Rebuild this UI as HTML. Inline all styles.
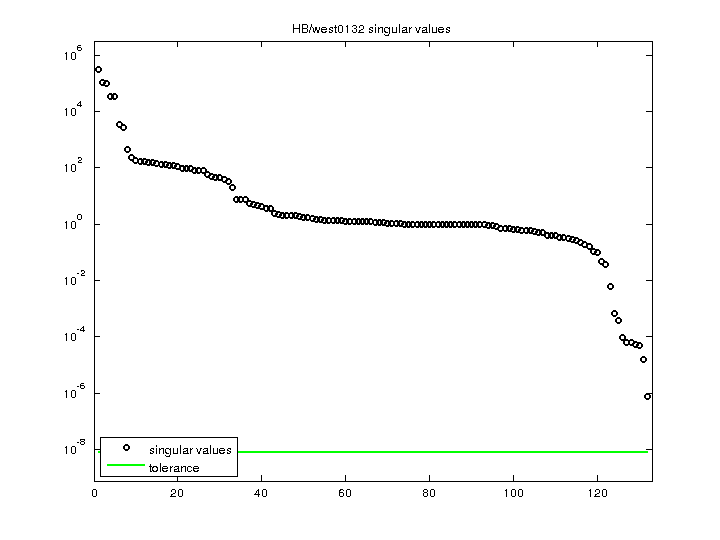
<!DOCTYPE html>
<html><head><meta charset="utf-8"><title>HB/west0132 singular values</title><style>
html,body{margin:0;padding:0;background:#fff;}
svg{display:block;}
text{font-family:"Liberation Sans",sans-serif;fill:#000;}
</style></head><body>
<svg width="720" height="540" viewBox="0 0 720 540">
<defs><filter id="th" x="0" y="0" width="1" height="1" color-interpolation-filters="sRGB"><feComponentTransfer><feFuncA type="discrete" tableValues="0 1"/></feComponentTransfer></filter></defs>
<rect x="0" y="0" width="720" height="540" fill="#fff"/>
<g shape-rendering="crispEdges" fill="#000">
<rect x="94" y="41" width="559" height="1"/>
<rect x="94" y="481" width="559" height="1"/>
<rect x="94" y="41" width="1" height="441"/>
<rect x="652" y="41" width="1" height="441"/>
<rect x="95" y="55" width="5" height="1"/><rect x="646" y="55" width="6" height="1"/><rect x="95" y="111" width="5" height="1"/><rect x="646" y="111" width="6" height="1"/><rect x="95" y="167" width="5" height="1"/><rect x="646" y="167" width="6" height="1"/><rect x="95" y="224" width="5" height="1"/><rect x="646" y="224" width="6" height="1"/><rect x="95" y="280" width="5" height="1"/><rect x="646" y="280" width="6" height="1"/><rect x="95" y="336" width="5" height="1"/><rect x="646" y="336" width="6" height="1"/><rect x="95" y="393" width="5" height="1"/><rect x="646" y="393" width="6" height="1"/><rect x="95" y="449" width="5" height="1"/><rect x="646" y="449" width="6" height="1"/><rect x="94" y="475" width="1" height="6"/><rect x="94" y="42" width="1" height="5"/><rect x="177" y="475" width="1" height="6"/><rect x="177" y="42" width="1" height="5"/><rect x="261" y="475" width="1" height="6"/><rect x="261" y="42" width="1" height="5"/><rect x="345" y="475" width="1" height="6"/><rect x="345" y="42" width="1" height="5"/><rect x="429" y="475" width="1" height="6"/><rect x="429" y="42" width="1" height="5"/><rect x="513" y="475" width="1" height="6"/><rect x="513" y="42" width="1" height="5"/><rect x="597" y="475" width="1" height="6"/><rect x="597" y="42" width="1" height="5"/>
</g>
<rect x="98" y="451" width="550" height="2" fill="#00ff00" shape-rendering="crispEdges"/>
<path d="M97 66h3v1h1v1h1v3h-1v1h-1v1h-3v-1h-1v-1h-1v-3h1v-1h1zM97 68v3h3v-3zM101 79h3v1h1v1h1v3h-1v1h-1v1h-3v-1h-1v-1h-1v-3h1v-1h1zM101 81v3h3v-3zM105 80h3v1h1v1h1v3h-1v1h-1v1h-3v-1h-1v-1h-1v-3h1v-1h1zM105 82v3h3v-3zM109 93h3v1h1v1h1v3h-1v1h-1v1h-3v-1h-1v-1h-1v-3h1v-1h1zM109 95v3h3v-3zM113 93h3v1h1v1h1v3h-1v1h-1v1h-3v-1h-1v-1h-1v-3h1v-1h1zM113 95v3h3v-3zM118 121h3v1h1v1h1v3h-1v1h-1v1h-3v-1h-1v-1h-1v-3h1v-1h1zM118 123v3h3v-3zM122 124h3v1h1v1h1v3h-1v1h-1v1h-3v-1h-1v-1h-1v-3h1v-1h1zM122 126v3h3v-3zM126 146h3v1h1v1h1v3h-1v1h-1v1h-3v-1h-1v-1h-1v-3h1v-1h1zM126 148v3h3v-3zM130 154h3v1h1v1h1v3h-1v1h-1v1h-3v-1h-1v-1h-1v-3h1v-1h1zM130 156v3h3v-3zM134 157h3v1h1v1h1v3h-1v1h-1v1h-3v-1h-1v-1h-1v-3h1v-1h1zM134 159v3h3v-3zM139 158h3v1h1v1h1v3h-1v1h-1v1h-3v-1h-1v-1h-1v-3h1v-1h1zM139 160v3h3v-3zM143 158h3v1h1v1h1v3h-1v1h-1v1h-3v-1h-1v-1h-1v-3h1v-1h1zM143 160v3h3v-3zM147 159h3v1h1v1h1v3h-1v1h-1v1h-3v-1h-1v-1h-1v-3h1v-1h1zM147 161v3h3v-3zM151 159h3v1h1v1h1v3h-1v1h-1v1h-3v-1h-1v-1h-1v-3h1v-1h1zM151 161v3h3v-3zM155 160h3v1h1v1h1v3h-1v1h-1v1h-3v-1h-1v-1h-1v-3h1v-1h1zM155 162v3h3v-3zM160 161h3v1h1v1h1v3h-1v1h-1v1h-3v-1h-1v-1h-1v-3h1v-1h1zM160 163v3h3v-3zM164 161h3v1h1v1h1v3h-1v1h-1v1h-3v-1h-1v-1h-1v-3h1v-1h1zM164 163v3h3v-3zM168 162h3v1h1v1h1v3h-1v1h-1v1h-3v-1h-1v-1h-1v-3h1v-1h1zM168 164v3h3v-3zM172 162h3v1h1v1h1v3h-1v1h-1v1h-3v-1h-1v-1h-1v-3h1v-1h1zM172 164v3h3v-3zM176 163h3v1h1v1h1v3h-1v1h-1v1h-3v-1h-1v-1h-1v-3h1v-1h1zM176 165v3h3v-3zM181 165h3v1h1v1h1v3h-1v1h-1v1h-3v-1h-1v-1h-1v-3h1v-1h1zM181 167v3h3v-3zM185 165h3v1h1v1h1v3h-1v1h-1v1h-3v-1h-1v-1h-1v-3h1v-1h1zM185 167v3h3v-3zM189 165h3v1h1v1h1v3h-1v1h-1v1h-3v-1h-1v-1h-1v-3h1v-1h1zM189 167v3h3v-3zM193 167h3v1h1v1h1v3h-1v1h-1v1h-3v-1h-1v-1h-1v-3h1v-1h1zM193 169v3h3v-3zM197 167h3v1h1v1h1v3h-1v1h-1v1h-3v-1h-1v-1h-1v-3h1v-1h1zM197 169v3h3v-3zM202 167h3v1h1v1h1v3h-1v1h-1v1h-3v-1h-1v-1h-1v-3h1v-1h1zM202 169v3h3v-3zM206 171h3v1h1v1h1v3h-1v1h-1v1h-3v-1h-1v-1h-1v-3h1v-1h1zM206 173v3h3v-3zM210 173h3v1h1v1h1v3h-1v1h-1v1h-3v-1h-1v-1h-1v-3h1v-1h1zM210 175v3h3v-3zM214 174h3v1h1v1h1v3h-1v1h-1v1h-3v-1h-1v-1h-1v-3h1v-1h1zM214 176v3h3v-3zM218 174h3v1h1v1h1v3h-1v1h-1v1h-3v-1h-1v-1h-1v-3h1v-1h1zM218 176v3h3v-3zM223 176h3v1h1v1h1v3h-1v1h-1v1h-3v-1h-1v-1h-1v-3h1v-1h1zM223 178v3h3v-3zM227 178h3v1h1v1h1v3h-1v1h-1v1h-3v-1h-1v-1h-1v-3h1v-1h1zM227 180v3h3v-3zM231 184h3v1h1v1h1v3h-1v1h-1v1h-3v-1h-1v-1h-1v-3h1v-1h1zM231 186v3h3v-3zM235 196h3v1h1v1h1v3h-1v1h-1v1h-3v-1h-1v-1h-1v-3h1v-1h1zM235 198v3h3v-3zM239 196h3v1h1v1h1v3h-1v1h-1v1h-3v-1h-1v-1h-1v-3h1v-1h1zM239 198v3h3v-3zM244 196h3v1h1v1h1v3h-1v1h-1v1h-3v-1h-1v-1h-1v-3h1v-1h1zM244 198v3h3v-3zM248 200h3v1h1v1h1v3h-1v1h-1v1h-3v-1h-1v-1h-1v-3h1v-1h1zM248 202v3h3v-3zM252 201h3v1h1v1h1v3h-1v1h-1v1h-3v-1h-1v-1h-1v-3h1v-1h1zM252 203v3h3v-3zM256 202h3v1h1v1h1v3h-1v1h-1v1h-3v-1h-1v-1h-1v-3h1v-1h1zM256 204v3h3v-3zM260 203h3v1h1v1h1v3h-1v1h-1v1h-3v-1h-1v-1h-1v-3h1v-1h1zM260 205v3h3v-3zM265 205h3v1h1v1h1v3h-1v1h-1v1h-3v-1h-1v-1h-1v-3h1v-1h1zM265 207v3h3v-3zM269 205h3v1h1v1h1v3h-1v1h-1v1h-3v-1h-1v-1h-1v-3h1v-1h1zM269 207v3h3v-3zM273 210h3v1h1v1h1v3h-1v1h-1v1h-3v-1h-1v-1h-1v-3h1v-1h1zM273 212v3h3v-3zM277 211h3v1h1v1h1v3h-1v1h-1v1h-3v-1h-1v-1h-1v-3h1v-1h1zM277 213v3h3v-3zM281 212h3v1h1v1h1v3h-1v1h-1v1h-3v-1h-1v-1h-1v-3h1v-1h1zM281 214v3h3v-3zM285 212h3v1h1v1h1v3h-1v1h-1v1h-3v-1h-1v-1h-1v-3h1v-1h1zM285 214v3h3v-3zM290 212h3v1h1v1h1v3h-1v1h-1v1h-3v-1h-1v-1h-1v-3h1v-1h1zM290 214v3h3v-3zM294 212h3v1h1v1h1v3h-1v1h-1v1h-3v-1h-1v-1h-1v-3h1v-1h1zM294 214v3h3v-3zM298 213h3v1h1v1h1v3h-1v1h-1v1h-3v-1h-1v-1h-1v-3h1v-1h1zM298 215v3h3v-3zM302 214h3v1h1v1h1v3h-1v1h-1v1h-3v-1h-1v-1h-1v-3h1v-1h1zM302 216v3h3v-3zM306 214h3v1h1v1h1v3h-1v1h-1v1h-3v-1h-1v-1h-1v-3h1v-1h1zM306 216v3h3v-3zM311 215h3v1h1v1h1v3h-1v1h-1v1h-3v-1h-1v-1h-1v-3h1v-1h1zM311 217v3h3v-3zM315 216h3v1h1v1h1v3h-1v1h-1v1h-3v-1h-1v-1h-1v-3h1v-1h1zM315 218v3h3v-3zM319 216h3v1h1v1h1v3h-1v1h-1v1h-3v-1h-1v-1h-1v-3h1v-1h1zM319 218v3h3v-3zM323 217h3v1h1v1h1v3h-1v1h-1v1h-3v-1h-1v-1h-1v-3h1v-1h1zM323 219v3h3v-3zM327 217h3v1h1v1h1v3h-1v1h-1v1h-3v-1h-1v-1h-1v-3h1v-1h1zM327 219v3h3v-3zM332 217h3v1h1v1h1v3h-1v1h-1v1h-3v-1h-1v-1h-1v-3h1v-1h1zM332 219v3h3v-3zM336 217h3v1h1v1h1v3h-1v1h-1v1h-3v-1h-1v-1h-1v-3h1v-1h1zM336 219v3h3v-3zM340 217h3v1h1v1h1v3h-1v1h-1v1h-3v-1h-1v-1h-1v-3h1v-1h1zM340 219v3h3v-3zM344 218h3v1h1v1h1v3h-1v1h-1v1h-3v-1h-1v-1h-1v-3h1v-1h1zM344 220v3h3v-3zM348 218h3v1h1v1h1v3h-1v1h-1v1h-3v-1h-1v-1h-1v-3h1v-1h1zM348 220v3h3v-3zM353 218h3v1h1v1h1v3h-1v1h-1v1h-3v-1h-1v-1h-1v-3h1v-1h1zM353 220v3h3v-3zM357 218h3v1h1v1h1v3h-1v1h-1v1h-3v-1h-1v-1h-1v-3h1v-1h1zM357 220v3h3v-3zM361 218h3v1h1v1h1v3h-1v1h-1v1h-3v-1h-1v-1h-1v-3h1v-1h1zM361 220v3h3v-3zM365 218h3v1h1v1h1v3h-1v1h-1v1h-3v-1h-1v-1h-1v-3h1v-1h1zM365 220v3h3v-3zM369 218h3v1h1v1h1v3h-1v1h-1v1h-3v-1h-1v-1h-1v-3h1v-1h1zM369 220v3h3v-3zM374 219h3v1h1v1h1v3h-1v1h-1v1h-3v-1h-1v-1h-1v-3h1v-1h1zM374 221v3h3v-3zM378 219h3v1h1v1h1v3h-1v1h-1v1h-3v-1h-1v-1h-1v-3h1v-1h1zM378 221v3h3v-3zM382 219h3v1h1v1h1v3h-1v1h-1v1h-3v-1h-1v-1h-1v-3h1v-1h1zM382 221v3h3v-3zM386 220h3v1h1v1h1v3h-1v1h-1v1h-3v-1h-1v-1h-1v-3h1v-1h1zM386 222v3h3v-3zM390 220h3v1h1v1h1v3h-1v1h-1v1h-3v-1h-1v-1h-1v-3h1v-1h1zM390 222v3h3v-3zM395 220h3v1h1v1h1v3h-1v1h-1v1h-3v-1h-1v-1h-1v-3h1v-1h1zM395 222v3h3v-3zM399 220h3v1h1v1h1v3h-1v1h-1v1h-3v-1h-1v-1h-1v-3h1v-1h1zM399 222v3h3v-3zM403 221h3v1h1v1h1v3h-1v1h-1v1h-3v-1h-1v-1h-1v-3h1v-1h1zM403 223v3h3v-3zM407 221h3v1h1v1h1v3h-1v1h-1v1h-3v-1h-1v-1h-1v-3h1v-1h1zM407 223v3h3v-3zM411 221h3v1h1v1h1v3h-1v1h-1v1h-3v-1h-1v-1h-1v-3h1v-1h1zM411 223v3h3v-3zM416 221h3v1h1v1h1v3h-1v1h-1v1h-3v-1h-1v-1h-1v-3h1v-1h1zM416 223v3h3v-3zM420 221h3v1h1v1h1v3h-1v1h-1v1h-3v-1h-1v-1h-1v-3h1v-1h1zM420 223v3h3v-3zM424 221h3v1h1v1h1v3h-1v1h-1v1h-3v-1h-1v-1h-1v-3h1v-1h1zM424 223v3h3v-3zM428 221h3v1h1v1h1v3h-1v1h-1v1h-3v-1h-1v-1h-1v-3h1v-1h1zM428 223v3h3v-3zM432 221h3v1h1v1h1v3h-1v1h-1v1h-3v-1h-1v-1h-1v-3h1v-1h1zM432 223v3h3v-3zM437 221h3v1h1v1h1v3h-1v1h-1v1h-3v-1h-1v-1h-1v-3h1v-1h1zM437 223v3h3v-3zM441 221h3v1h1v1h1v3h-1v1h-1v1h-3v-1h-1v-1h-1v-3h1v-1h1zM441 223v3h3v-3zM445 221h3v1h1v1h1v3h-1v1h-1v1h-3v-1h-1v-1h-1v-3h1v-1h1zM445 223v3h3v-3zM449 221h3v1h1v1h1v3h-1v1h-1v1h-3v-1h-1v-1h-1v-3h1v-1h1zM449 223v3h3v-3zM453 221h3v1h1v1h1v3h-1v1h-1v1h-3v-1h-1v-1h-1v-3h1v-1h1zM453 223v3h3v-3zM458 221h3v1h1v1h1v3h-1v1h-1v1h-3v-1h-1v-1h-1v-3h1v-1h1zM458 223v3h3v-3zM462 221h3v1h1v1h1v3h-1v1h-1v1h-3v-1h-1v-1h-1v-3h1v-1h1zM462 223v3h3v-3zM466 221h3v1h1v1h1v3h-1v1h-1v1h-3v-1h-1v-1h-1v-3h1v-1h1zM466 223v3h3v-3zM470 221h3v1h1v1h1v3h-1v1h-1v1h-3v-1h-1v-1h-1v-3h1v-1h1zM470 223v3h3v-3zM474 221h3v1h1v1h1v3h-1v1h-1v1h-3v-1h-1v-1h-1v-3h1v-1h1zM474 223v3h3v-3zM478 221h3v1h1v1h1v3h-1v1h-1v1h-3v-1h-1v-1h-1v-3h1v-1h1zM478 223v3h3v-3zM483 221h3v1h1v1h1v3h-1v1h-1v1h-3v-1h-1v-1h-1v-3h1v-1h1zM483 223v3h3v-3zM487 222h3v1h1v1h1v3h-1v1h-1v1h-3v-1h-1v-1h-1v-3h1v-1h1zM487 224v3h3v-3zM491 222h3v1h1v1h1v3h-1v1h-1v1h-3v-1h-1v-1h-1v-3h1v-1h1zM491 224v3h3v-3zM495 223h3v1h1v1h1v3h-1v1h-1v1h-3v-1h-1v-1h-1v-3h1v-1h1zM495 225v3h3v-3zM499 225h3v1h1v1h1v3h-1v1h-1v1h-3v-1h-1v-1h-1v-3h1v-1h1zM499 227v3h3v-3zM504 225h3v1h1v1h1v3h-1v1h-1v1h-3v-1h-1v-1h-1v-3h1v-1h1zM504 227v3h3v-3zM508 225h3v1h1v1h1v3h-1v1h-1v1h-3v-1h-1v-1h-1v-3h1v-1h1zM508 227v3h3v-3zM512 226h3v1h1v1h1v3h-1v1h-1v1h-3v-1h-1v-1h-1v-3h1v-1h1zM512 228v3h3v-3zM516 226h3v1h1v1h1v3h-1v1h-1v1h-3v-1h-1v-1h-1v-3h1v-1h1zM516 228v3h3v-3zM520 227h3v1h1v1h1v3h-1v1h-1v1h-3v-1h-1v-1h-1v-3h1v-1h1zM520 229v3h3v-3zM525 227h3v1h1v1h1v3h-1v1h-1v1h-3v-1h-1v-1h-1v-3h1v-1h1zM525 229v3h3v-3zM529 227h3v1h1v1h1v3h-1v1h-1v1h-3v-1h-1v-1h-1v-3h1v-1h1zM529 229v3h3v-3zM533 228h3v1h1v1h1v3h-1v1h-1v1h-3v-1h-1v-1h-1v-3h1v-1h1zM533 230v3h3v-3zM537 229h3v1h1v1h1v3h-1v1h-1v1h-3v-1h-1v-1h-1v-3h1v-1h1zM537 231v3h3v-3zM541 229h3v1h1v1h1v3h-1v1h-1v1h-3v-1h-1v-1h-1v-3h1v-1h1zM541 231v3h3v-3zM546 232h3v1h1v1h1v3h-1v1h-1v1h-3v-1h-1v-1h-1v-3h1v-1h1zM546 234v3h3v-3zM550 232h3v1h1v1h1v3h-1v1h-1v1h-3v-1h-1v-1h-1v-3h1v-1h1zM550 234v3h3v-3zM554 232h3v1h1v1h1v3h-1v1h-1v1h-3v-1h-1v-1h-1v-3h1v-1h1zM554 234v3h3v-3zM558 234h3v1h1v1h1v3h-1v1h-1v1h-3v-1h-1v-1h-1v-3h1v-1h1zM558 236v3h3v-3zM562 234h3v1h1v1h1v3h-1v1h-1v1h-3v-1h-1v-1h-1v-3h1v-1h1zM562 236v3h3v-3zM567 235h3v1h1v1h1v3h-1v1h-1v1h-3v-1h-1v-1h-1v-3h1v-1h1zM567 237v3h3v-3zM571 236h3v1h1v1h1v3h-1v1h-1v1h-3v-1h-1v-1h-1v-3h1v-1h1zM571 238v3h3v-3zM575 237h3v1h1v1h1v3h-1v1h-1v1h-3v-1h-1v-1h-1v-3h1v-1h1zM575 239v3h3v-3zM579 239h3v1h1v1h1v3h-1v1h-1v1h-3v-1h-1v-1h-1v-3h1v-1h1zM579 241v3h3v-3zM583 241h3v1h1v1h1v3h-1v1h-1v1h-3v-1h-1v-1h-1v-3h1v-1h1zM583 243v3h3v-3zM588 243h3v1h1v1h1v3h-1v1h-1v1h-3v-1h-1v-1h-1v-3h1v-1h1zM588 245v3h3v-3zM592 248h3v1h1v1h1v3h-1v1h-1v1h-3v-1h-1v-1h-1v-3h1v-1h1zM592 250v3h3v-3zM596 249h3v1h1v1h1v3h-1v1h-1v1h-3v-1h-1v-1h-1v-3h1v-1h1zM596 251v3h3v-3zM600 258h3v1h1v1h1v3h-1v1h-1v1h-3v-1h-1v-1h-1v-3h1v-1h1zM600 260v3h3v-3zM604 261h3v1h1v1h1v3h-1v1h-1v1h-3v-1h-1v-1h-1v-3h1v-1h1zM604 263v3h3v-3zM609 283h3v1h1v1h1v3h-1v1h-1v1h-3v-1h-1v-1h-1v-3h1v-1h1zM609 285v3h3v-3zM613 310h3v1h1v1h1v3h-1v1h-1v1h-3v-1h-1v-1h-1v-3h1v-1h1zM613 312v3h3v-3zM617 317h3v1h1v1h1v3h-1v1h-1v1h-3v-1h-1v-1h-1v-3h1v-1h1zM617 319v3h3v-3zM621 334h3v1h1v1h1v3h-1v1h-1v1h-3v-1h-1v-1h-1v-3h1v-1h1zM621 336v3h3v-3zM625 339h3v1h1v1h1v3h-1v1h-1v1h-3v-1h-1v-1h-1v-3h1v-1h1zM625 341v3h3v-3zM630 339h3v1h1v1h1v3h-1v1h-1v1h-3v-1h-1v-1h-1v-3h1v-1h1zM630 341v3h3v-3zM634 341h3v1h1v1h1v3h-1v1h-1v1h-3v-1h-1v-1h-1v-3h1v-1h1zM634 343v3h3v-3zM638 342h3v1h1v1h1v3h-1v1h-1v1h-3v-1h-1v-1h-1v-3h1v-1h1zM638 344v3h3v-3zM642 356h3v1h1v1h1v3h-1v1h-1v1h-3v-1h-1v-1h-1v-3h1v-1h1zM642 358v3h3v-3zM646 393h3v1h1v1h1v3h-1v1h-1v1h-3v-1h-1v-1h-1v-3h1v-1h1zM646 395v3h3v-3z" fill="#000" shape-rendering="crispEdges"/>
<g shape-rendering="crispEdges">
<rect x="100.5" y="437.5" width="137" height="39" fill="#fff" stroke="#000" stroke-width="1"/>
<path d="M125 444h3v1h1v1h1v3h-1v1h-1v1h-3v-1h-1v-1h-1v-3h1v-1h1zM125 446v3h3v-3z" fill="#000"/>
<rect x="107" y="464" width="38" height="2" fill="#00ff00"/>
</g>
<path d="M66 52h1v1h-1zM65 53h2v1h-2zM66 54h1v1h-1zM66 55h1v1h-1zM66 56h1v1h-1zM66 57h1v1h-1zM66 58h1v1h-1zM66 59h1v1h-1zM72 52h3v1h-3zM71 53h1v1h-1zM75 53h1v1h-1zM71 54h1v1h-1zM75 54h1v1h-1zM71 55h1v1h-1zM75 55h1v1h-1zM71 56h1v1h-1zM75 56h1v1h-1zM71 57h1v1h-1zM75 57h1v1h-1zM71 58h1v1h-1zM75 58h1v1h-1zM72 59h3v1h-3zM78 45h3v1h-3zM77 46h1v1h-1zM77 47h4v1h-4zM77 48h1v1h-1zM81 48h1v1h-1zM77 49h1v1h-1zM81 49h1v1h-1zM78 50h3v1h-3zM66 108h1v1h-1zM65 109h2v1h-2zM66 110h1v1h-1zM66 111h1v1h-1zM66 112h1v1h-1zM66 113h1v1h-1zM66 114h1v1h-1zM66 115h1v1h-1zM72 108h3v1h-3zM71 109h1v1h-1zM75 109h1v1h-1zM71 110h1v1h-1zM75 110h1v1h-1zM71 111h1v1h-1zM75 111h1v1h-1zM71 112h1v1h-1zM75 112h1v1h-1zM71 113h1v1h-1zM75 113h1v1h-1zM71 114h1v1h-1zM75 114h1v1h-1zM72 115h3v1h-3zM80 101h1v1h-1zM79 102h2v1h-2zM78 103h1v1h-1zM80 103h1v1h-1zM77 104h1v1h-1zM80 104h1v1h-1zM77 105h5v1h-5zM80 106h1v1h-1zM66 164h1v1h-1zM65 165h2v1h-2zM66 166h1v1h-1zM66 167h1v1h-1zM66 168h1v1h-1zM66 169h1v1h-1zM66 170h1v1h-1zM66 171h1v1h-1zM72 164h3v1h-3zM71 165h1v1h-1zM75 165h1v1h-1zM71 166h1v1h-1zM75 166h1v1h-1zM71 167h1v1h-1zM75 167h1v1h-1zM71 168h1v1h-1zM75 168h1v1h-1zM71 169h1v1h-1zM75 169h1v1h-1zM71 170h1v1h-1zM75 170h1v1h-1zM72 171h3v1h-3zM78 157h3v1h-3zM78 158h1v1h-1zM81 158h1v1h-1zM81 159h1v1h-1zM79 160h2v1h-2zM78 161h1v1h-1zM78 162h4v1h-4zM66 221h1v1h-1zM65 222h2v1h-2zM66 223h1v1h-1zM66 224h1v1h-1zM66 225h1v1h-1zM66 226h1v1h-1zM66 227h1v1h-1zM66 228h1v1h-1zM72 221h3v1h-3zM71 222h1v1h-1zM75 222h1v1h-1zM71 223h1v1h-1zM75 223h1v1h-1zM71 224h1v1h-1zM75 224h1v1h-1zM71 225h1v1h-1zM75 225h1v1h-1zM71 226h1v1h-1zM75 226h1v1h-1zM71 227h1v1h-1zM75 227h1v1h-1zM72 228h3v1h-3zM78 214h3v1h-3zM77 215h1v1h-1zM81 215h1v1h-1zM77 216h1v1h-1zM81 216h1v1h-1zM77 217h1v1h-1zM81 217h1v1h-1zM77 218h1v1h-1zM81 218h1v1h-1zM78 219h3v1h-3zM66 277h1v1h-1zM65 278h2v1h-2zM66 279h1v1h-1zM66 280h1v1h-1zM66 281h1v1h-1zM66 282h1v1h-1zM66 283h1v1h-1zM66 284h1v1h-1zM72 277h3v1h-3zM71 278h1v1h-1zM75 278h1v1h-1zM71 279h1v1h-1zM75 279h1v1h-1zM71 280h1v1h-1zM75 280h1v1h-1zM71 281h1v1h-1zM75 281h1v1h-1zM71 282h1v1h-1zM75 282h1v1h-1zM71 283h1v1h-1zM75 283h1v1h-1zM72 284h3v1h-3zM77 273h2v1h-2zM81 270h3v1h-3zM81 271h1v1h-1zM84 271h1v1h-1zM84 272h1v1h-1zM82 273h2v1h-2zM81 274h1v1h-1zM81 275h4v1h-4zM66 333h1v1h-1zM65 334h2v1h-2zM66 335h1v1h-1zM66 336h1v1h-1zM66 337h1v1h-1zM66 338h1v1h-1zM66 339h1v1h-1zM66 340h1v1h-1zM72 333h3v1h-3zM71 334h1v1h-1zM75 334h1v1h-1zM71 335h1v1h-1zM75 335h1v1h-1zM71 336h1v1h-1zM75 336h1v1h-1zM71 337h1v1h-1zM75 337h1v1h-1zM71 338h1v1h-1zM75 338h1v1h-1zM71 339h1v1h-1zM75 339h1v1h-1zM72 340h3v1h-3zM77 329h2v1h-2zM83 326h1v1h-1zM82 327h2v1h-2zM81 328h1v1h-1zM83 328h1v1h-1zM80 329h1v1h-1zM83 329h1v1h-1zM80 330h5v1h-5zM83 331h1v1h-1zM66 390h1v1h-1zM65 391h2v1h-2zM66 392h1v1h-1zM66 393h1v1h-1zM66 394h1v1h-1zM66 395h1v1h-1zM66 396h1v1h-1zM66 397h1v1h-1zM72 390h3v1h-3zM71 391h1v1h-1zM75 391h1v1h-1zM71 392h1v1h-1zM75 392h1v1h-1zM71 393h1v1h-1zM75 393h1v1h-1zM71 394h1v1h-1zM75 394h1v1h-1zM71 395h1v1h-1zM75 395h1v1h-1zM71 396h1v1h-1zM75 396h1v1h-1zM72 397h3v1h-3zM77 386h2v1h-2zM81 383h3v1h-3zM80 384h1v1h-1zM80 385h4v1h-4zM80 386h1v1h-1zM84 386h1v1h-1zM80 387h1v1h-1zM84 387h1v1h-1zM81 388h3v1h-3zM66 446h1v1h-1zM65 447h2v1h-2zM66 448h1v1h-1zM66 449h1v1h-1zM66 450h1v1h-1zM66 451h1v1h-1zM66 452h1v1h-1zM66 453h1v1h-1zM72 446h3v1h-3zM71 447h1v1h-1zM75 447h1v1h-1zM71 448h1v1h-1zM75 448h1v1h-1zM71 449h1v1h-1zM75 449h1v1h-1zM71 450h1v1h-1zM75 450h1v1h-1zM71 451h1v1h-1zM75 451h1v1h-1zM71 452h1v1h-1zM75 452h1v1h-1zM72 453h3v1h-3zM77 442h2v1h-2zM80 439h5v1h-5zM80 440h1v1h-1zM84 440h1v1h-1zM81 441h3v1h-3zM80 442h1v1h-1zM84 442h1v1h-1zM80 443h1v1h-1zM84 443h1v1h-1zM81 444h3v1h-3zM93 489h3v1h-3zM92 490h1v1h-1zM96 490h1v1h-1zM92 491h1v1h-1zM96 491h1v1h-1zM92 492h1v1h-1zM96 492h1v1h-1zM92 493h1v1h-1zM96 493h1v1h-1zM92 494h1v1h-1zM96 494h1v1h-1zM92 495h1v1h-1zM96 495h1v1h-1zM93 496h3v1h-3zM172 489h3v1h-3zM171 490h1v1h-1zM175 490h1v1h-1zM171 491h1v1h-1zM175 491h1v1h-1zM175 492h1v1h-1zM173 493h2v1h-2zM171 494h2v1h-2zM171 495h1v1h-1zM170 496h6v1h-6zM179 489h3v1h-3zM178 490h1v1h-1zM182 490h1v1h-1zM178 491h1v1h-1zM182 491h1v1h-1zM178 492h1v1h-1zM182 492h1v1h-1zM178 493h1v1h-1zM182 493h1v1h-1zM178 494h1v1h-1zM182 494h1v1h-1zM178 495h1v1h-1zM182 495h1v1h-1zM179 496h3v1h-3zM258 489h1v1h-1zM257 490h2v1h-2zM256 491h1v1h-1zM258 491h1v1h-1zM256 492h1v1h-1zM258 492h1v1h-1zM255 493h1v1h-1zM258 493h1v1h-1zM254 494h6v1h-6zM258 495h1v1h-1zM258 496h1v1h-1zM263 489h3v1h-3zM262 490h1v1h-1zM266 490h1v1h-1zM262 491h1v1h-1zM266 491h1v1h-1zM262 492h1v1h-1zM266 492h1v1h-1zM262 493h1v1h-1zM266 493h1v1h-1zM262 494h1v1h-1zM266 494h1v1h-1zM262 495h1v1h-1zM266 495h1v1h-1zM263 496h3v1h-3zM340 489h3v1h-3zM339 490h2v1h-2zM343 490h1v1h-1zM339 491h1v1h-1zM339 492h4v1h-4zM339 493h1v1h-1zM343 493h1v1h-1zM339 494h1v1h-1zM343 494h1v1h-1zM339 495h1v1h-1zM343 495h1v1h-1zM340 496h3v1h-3zM347 489h3v1h-3zM346 490h1v1h-1zM350 490h1v1h-1zM346 491h1v1h-1zM350 491h1v1h-1zM346 492h1v1h-1zM350 492h1v1h-1zM346 493h1v1h-1zM350 493h1v1h-1zM346 494h1v1h-1zM350 494h1v1h-1zM346 495h1v1h-1zM350 495h1v1h-1zM347 496h3v1h-3zM424 489h3v1h-3zM423 490h1v1h-1zM427 490h1v1h-1zM423 491h1v1h-1zM427 491h1v1h-1zM424 492h3v1h-3zM423 493h1v1h-1zM427 493h1v1h-1zM423 494h1v1h-1zM427 494h1v1h-1zM423 495h1v1h-1zM427 495h1v1h-1zM424 496h3v1h-3zM431 489h3v1h-3zM430 490h1v1h-1zM434 490h1v1h-1zM430 491h1v1h-1zM434 491h1v1h-1zM430 492h1v1h-1zM434 492h1v1h-1zM430 493h1v1h-1zM434 493h1v1h-1zM430 494h1v1h-1zM434 494h1v1h-1zM430 495h1v1h-1zM434 495h1v1h-1zM431 496h3v1h-3zM506 489h1v1h-1zM505 490h2v1h-2zM506 491h1v1h-1zM506 492h1v1h-1zM506 493h1v1h-1zM506 494h1v1h-1zM506 495h1v1h-1zM506 496h1v1h-1zM512 489h3v1h-3zM511 490h1v1h-1zM515 490h1v1h-1zM511 491h1v1h-1zM515 491h1v1h-1zM511 492h1v1h-1zM515 492h1v1h-1zM511 493h1v1h-1zM515 493h1v1h-1zM511 494h1v1h-1zM515 494h1v1h-1zM511 495h1v1h-1zM515 495h1v1h-1zM512 496h3v1h-3zM519 489h3v1h-3zM518 490h1v1h-1zM522 490h1v1h-1zM518 491h1v1h-1zM522 491h1v1h-1zM518 492h1v1h-1zM522 492h1v1h-1zM518 493h1v1h-1zM522 493h1v1h-1zM518 494h1v1h-1zM522 494h1v1h-1zM518 495h1v1h-1zM522 495h1v1h-1zM519 496h3v1h-3zM590 489h1v1h-1zM589 490h2v1h-2zM590 491h1v1h-1zM590 492h1v1h-1zM590 493h1v1h-1zM590 494h1v1h-1zM590 495h1v1h-1zM590 496h1v1h-1zM596 489h3v1h-3zM595 490h1v1h-1zM599 490h1v1h-1zM595 491h1v1h-1zM599 491h1v1h-1zM599 492h1v1h-1zM597 493h2v1h-2zM595 494h2v1h-2zM595 495h1v1h-1zM594 496h6v1h-6zM603 489h3v1h-3zM602 490h1v1h-1zM606 490h1v1h-1zM602 491h1v1h-1zM606 491h1v1h-1zM602 492h1v1h-1zM606 492h1v1h-1zM602 493h1v1h-1zM606 493h1v1h-1zM602 494h1v1h-1zM606 494h1v1h-1zM602 495h1v1h-1zM606 495h1v1h-1zM603 496h3v1h-3zM339 25h3v1h-3zM338 26h1v1h-1zM342 26h1v1h-1zM338 27h1v1h-1zM342 27h1v1h-1zM338 28h1v1h-1zM342 28h1v1h-1zM338 29h1v1h-1zM342 29h1v1h-1zM338 30h1v1h-1zM342 30h1v1h-1zM338 31h1v1h-1zM342 31h1v1h-1zM339 32h3v1h-3zM347 25h1v1h-1zM346 26h2v1h-2zM347 27h1v1h-1zM347 28h1v1h-1zM347 29h1v1h-1zM347 30h1v1h-1zM347 31h1v1h-1zM347 32h1v1h-1zM353 25h3v1h-3zM352 26h1v1h-1zM356 26h1v1h-1zM356 27h1v1h-1zM354 28h2v1h-2zM356 29h1v1h-1zM352 30h1v1h-1zM356 30h1v1h-1zM352 31h1v1h-1zM356 31h1v1h-1zM353 32h3v1h-3zM360 25h3v1h-3zM359 26h1v1h-1zM363 26h1v1h-1zM359 27h1v1h-1zM363 27h1v1h-1zM363 28h1v1h-1zM361 29h2v1h-2zM359 30h2v1h-2zM359 31h1v1h-1zM358 32h6v1h-6z" fill="#000" shape-rendering="crispEdges"/>
<path d="M293 24h1v1h-1zM299 24h1v1h-1zM293 25h1v1h-1zM299 25h1v1h-1zM293 26h1v1h-1zM299 26h1v1h-1zM293 27h1v1h-1zM299 27h1v1h-1zM293 28h7v1h-7zM293 29h1v1h-1zM299 29h1v1h-1zM293 30h1v1h-1zM299 30h1v1h-1zM293 31h1v1h-1zM299 31h1v1h-1zM293 32h1v1h-1zM299 32h1v1h-1zM302 24h5v1h-5zM302 25h1v1h-1zM307 25h1v1h-1zM302 26h1v1h-1zM307 26h1v1h-1zM302 27h1v1h-1zM307 27h1v1h-1zM302 28h5v1h-5zM302 29h1v1h-1zM307 29h1v1h-1zM302 30h1v1h-1zM307 30h1v1h-1zM302 31h1v1h-1zM307 31h1v1h-1zM302 32h5v1h-5zM311 24h1v1h-1zM311 25h1v1h-1zM311 26h1v1h-1zM310 27h1v1h-1zM310 28h1v1h-1zM310 29h1v1h-1zM309 30h1v1h-1zM309 31h1v1h-1zM309 32h1v1h-1zM312 27h1v1h-1zM315 27h2v1h-2zM319 27h1v1h-1zM313 28h1v1h-1zM315 28h2v1h-2zM319 28h1v1h-1zM313 29h1v1h-1zM315 29h2v1h-2zM319 29h1v1h-1zM313 30h1v1h-1zM315 30h1v1h-1zM317 30h2v1h-2zM313 31h2v1h-2zM317 31h2v1h-2zM314 32h1v1h-1zM317 32h2v1h-2zM322 27h4v1h-4zM321 28h1v1h-1zM326 28h1v1h-1zM321 29h6v1h-6zM321 30h1v1h-1zM321 31h2v1h-2zM325 31h2v1h-2zM322 32h4v1h-4zM330 27h3v1h-3zM329 28h1v1h-1zM332 28h1v1h-1zM329 29h2v1h-2zM331 30h2v1h-2zM329 31h1v1h-1zM332 31h1v1h-1zM329 32h3v1h-3zM335 25h1v1h-1zM335 26h1v1h-1zM334 27h3v1h-3zM335 28h1v1h-1zM335 29h1v1h-1zM335 30h1v1h-1zM335 31h1v1h-1zM335 32h2v1h-2zM370 27h3v1h-3zM369 28h1v1h-1zM372 28h1v1h-1zM369 29h2v1h-2zM371 30h2v1h-2zM369 31h1v1h-1zM372 31h1v1h-1zM369 32h3v1h-3zM375 24h1v1h-1zM375 25h1v1h-1zM375 27h1v1h-1zM375 28h1v1h-1zM375 29h1v1h-1zM375 30h1v1h-1zM375 31h1v1h-1zM375 32h1v1h-1zM378 27h1v1h-1zM380 27h3v1h-3zM378 28h2v1h-2zM382 28h1v1h-1zM378 29h1v1h-1zM382 29h1v1h-1zM378 30h1v1h-1zM382 30h1v1h-1zM378 31h1v1h-1zM382 31h1v1h-1zM378 32h1v1h-1zM382 32h1v1h-1zM385 27h3v1h-3zM389 27h1v1h-1zM384 28h1v1h-1zM388 28h2v1h-2zM384 29h1v1h-1zM389 29h1v1h-1zM384 30h1v1h-1zM389 30h1v1h-1zM384 31h2v1h-2zM389 31h1v1h-1zM385 32h3v1h-3zM389 32h1v1h-1zM389 33h1v1h-1zM384 34h1v1h-1zM388 34h1v1h-1zM385 35h4v1h-4zM392 27h1v1h-1zM396 27h1v1h-1zM392 28h1v1h-1zM396 28h1v1h-1zM392 29h1v1h-1zM396 29h1v1h-1zM392 30h1v1h-1zM396 30h1v1h-1zM392 31h1v1h-1zM396 31h1v1h-1zM392 32h5v1h-5zM399 24h1v1h-1zM399 25h1v1h-1zM399 26h1v1h-1zM399 27h1v1h-1zM399 28h1v1h-1zM399 29h1v1h-1zM399 30h1v1h-1zM399 31h1v1h-1zM399 32h1v1h-1zM403 27h4v1h-4zM402 28h1v1h-1zM406 28h1v1h-1zM405 29h2v1h-2zM402 30h3v1h-3zM406 30h1v1h-1zM402 31h1v1h-1zM406 31h1v1h-1zM402 32h6v1h-6zM409 27h1v1h-1zM411 27h1v1h-1zM409 28h2v1h-2zM409 29h1v1h-1zM409 30h1v1h-1zM409 31h1v1h-1zM409 32h1v1h-1zM415 27h1v1h-1zM419 27h2v1h-2zM416 28h1v1h-1zM419 28h1v1h-1zM416 29h1v1h-1zM419 29h1v1h-1zM416 30h1v1h-1zM418 30h1v1h-1zM417 31h2v1h-2zM417 32h2v1h-2zM423 27h4v1h-4zM422 28h1v1h-1zM426 28h1v1h-1zM425 29h2v1h-2zM422 30h3v1h-3zM426 30h1v1h-1zM422 31h1v1h-1zM426 31h1v1h-1zM422 32h6v1h-6zM429 24h1v1h-1zM429 25h1v1h-1zM429 26h1v1h-1zM429 27h1v1h-1zM429 28h1v1h-1zM429 29h1v1h-1zM429 30h1v1h-1zM429 31h1v1h-1zM429 32h1v1h-1zM432 27h1v1h-1zM436 27h1v1h-1zM432 28h1v1h-1zM436 28h1v1h-1zM432 29h1v1h-1zM436 29h1v1h-1zM432 30h1v1h-1zM436 30h1v1h-1zM432 31h1v1h-1zM436 31h1v1h-1zM432 32h5v1h-5zM439 27h4v1h-4zM438 28h1v1h-1zM443 28h1v1h-1zM438 29h6v1h-6zM438 30h1v1h-1zM438 31h2v1h-2zM442 31h2v1h-2zM439 32h4v1h-4zM447 27h3v1h-3zM446 28h1v1h-1zM449 28h1v1h-1zM446 29h2v1h-2zM448 30h2v1h-2zM446 31h1v1h-1zM449 31h1v1h-1zM446 32h3v1h-3zM151 448h3v1h-3zM150 449h1v1h-1zM153 449h1v1h-1zM150 450h2v1h-2zM152 451h2v1h-2zM150 452h1v1h-1zM153 452h1v1h-1zM150 453h3v1h-3zM156 445h1v1h-1zM156 446h1v1h-1zM156 448h1v1h-1zM156 449h1v1h-1zM156 450h1v1h-1zM156 451h1v1h-1zM156 452h1v1h-1zM156 453h1v1h-1zM159 448h1v1h-1zM161 448h3v1h-3zM159 449h2v1h-2zM163 449h1v1h-1zM159 450h1v1h-1zM163 450h1v1h-1zM159 451h1v1h-1zM163 451h1v1h-1zM159 452h1v1h-1zM163 452h1v1h-1zM159 453h1v1h-1zM163 453h1v1h-1zM166 448h3v1h-3zM170 448h1v1h-1zM165 449h1v1h-1zM169 449h2v1h-2zM165 450h1v1h-1zM170 450h1v1h-1zM165 451h1v1h-1zM170 451h1v1h-1zM165 452h2v1h-2zM170 452h1v1h-1zM166 453h3v1h-3zM170 453h1v1h-1zM170 454h1v1h-1zM165 455h1v1h-1zM169 455h1v1h-1zM166 456h4v1h-4zM173 448h1v1h-1zM177 448h1v1h-1zM173 449h1v1h-1zM177 449h1v1h-1zM173 450h1v1h-1zM177 450h1v1h-1zM173 451h1v1h-1zM177 451h1v1h-1zM173 452h1v1h-1zM177 452h1v1h-1zM173 453h5v1h-5zM180 445h1v1h-1zM180 446h1v1h-1zM180 447h1v1h-1zM180 448h1v1h-1zM180 449h1v1h-1zM180 450h1v1h-1zM180 451h1v1h-1zM180 452h1v1h-1zM180 453h1v1h-1zM184 448h4v1h-4zM183 449h1v1h-1zM187 449h1v1h-1zM186 450h2v1h-2zM183 451h3v1h-3zM187 451h1v1h-1zM183 452h1v1h-1zM187 452h1v1h-1zM183 453h6v1h-6zM190 448h1v1h-1zM192 448h1v1h-1zM190 449h2v1h-2zM190 450h1v1h-1zM190 451h1v1h-1zM190 452h1v1h-1zM190 453h1v1h-1zM196 448h1v1h-1zM200 448h2v1h-2zM197 449h1v1h-1zM200 449h1v1h-1zM197 450h1v1h-1zM200 450h1v1h-1zM197 451h1v1h-1zM199 451h1v1h-1zM198 452h2v1h-2zM198 453h2v1h-2zM204 448h4v1h-4zM203 449h1v1h-1zM207 449h1v1h-1zM206 450h2v1h-2zM203 451h3v1h-3zM207 451h1v1h-1zM203 452h1v1h-1zM207 452h1v1h-1zM203 453h6v1h-6zM210 445h1v1h-1zM210 446h1v1h-1zM210 447h1v1h-1zM210 448h1v1h-1zM210 449h1v1h-1zM210 450h1v1h-1zM210 451h1v1h-1zM210 452h1v1h-1zM210 453h1v1h-1zM213 448h1v1h-1zM217 448h1v1h-1zM213 449h1v1h-1zM217 449h1v1h-1zM213 450h1v1h-1zM217 450h1v1h-1zM213 451h1v1h-1zM217 451h1v1h-1zM213 452h1v1h-1zM217 452h1v1h-1zM213 453h5v1h-5zM220 448h4v1h-4zM219 449h1v1h-1zM224 449h1v1h-1zM219 450h6v1h-6zM219 451h1v1h-1zM219 452h2v1h-2zM223 452h2v1h-2zM220 453h4v1h-4zM228 448h3v1h-3zM227 449h1v1h-1zM230 449h1v1h-1zM227 450h2v1h-2zM229 451h2v1h-2zM227 452h1v1h-1zM230 452h1v1h-1zM227 453h3v1h-3zM150 464h1v1h-1zM150 465h1v1h-1zM149 466h3v1h-3zM150 467h1v1h-1zM150 468h1v1h-1zM150 469h1v1h-1zM150 470h1v1h-1zM150 471h2v1h-2zM153 466h4v1h-4zM152 467h2v1h-2zM156 467h2v1h-2zM152 468h1v1h-1zM157 468h1v1h-1zM152 469h1v1h-1zM157 469h1v1h-1zM152 470h2v1h-2zM156 470h2v1h-2zM153 471h4v1h-4zM160 463h1v1h-1zM160 464h1v1h-1zM160 465h1v1h-1zM160 466h1v1h-1zM160 467h1v1h-1zM160 468h1v1h-1zM160 469h1v1h-1zM160 470h1v1h-1zM160 471h1v1h-1zM163 466h4v1h-4zM162 467h1v1h-1zM167 467h1v1h-1zM162 468h6v1h-6zM162 469h1v1h-1zM162 470h2v1h-2zM166 470h2v1h-2zM163 471h4v1h-4zM170 466h1v1h-1zM172 466h1v1h-1zM170 467h2v1h-2zM170 468h1v1h-1zM170 469h1v1h-1zM170 470h1v1h-1zM170 471h1v1h-1zM175 466h4v1h-4zM174 467h1v1h-1zM178 467h1v1h-1zM177 468h2v1h-2zM174 469h3v1h-3zM178 469h1v1h-1zM174 470h1v1h-1zM178 470h1v1h-1zM174 471h6v1h-6zM181 466h1v1h-1zM183 466h3v1h-3zM181 467h2v1h-2zM185 467h1v1h-1zM181 468h1v1h-1zM185 468h1v1h-1zM181 469h1v1h-1zM185 469h1v1h-1zM181 470h1v1h-1zM185 470h1v1h-1zM181 471h1v1h-1zM185 471h1v1h-1zM188 466h3v1h-3zM187 467h1v1h-1zM191 467h1v1h-1zM187 468h1v1h-1zM187 469h1v1h-1zM187 470h1v1h-1zM191 470h1v1h-1zM188 471h3v1h-3zM194 466h4v1h-4zM193 467h1v1h-1zM198 467h1v1h-1zM193 468h6v1h-6zM193 469h1v1h-1zM193 470h2v1h-2zM197 470h2v1h-2zM194 471h4v1h-4z" fill="#000" shape-rendering="crispEdges"/>
</svg>
</body></html>
